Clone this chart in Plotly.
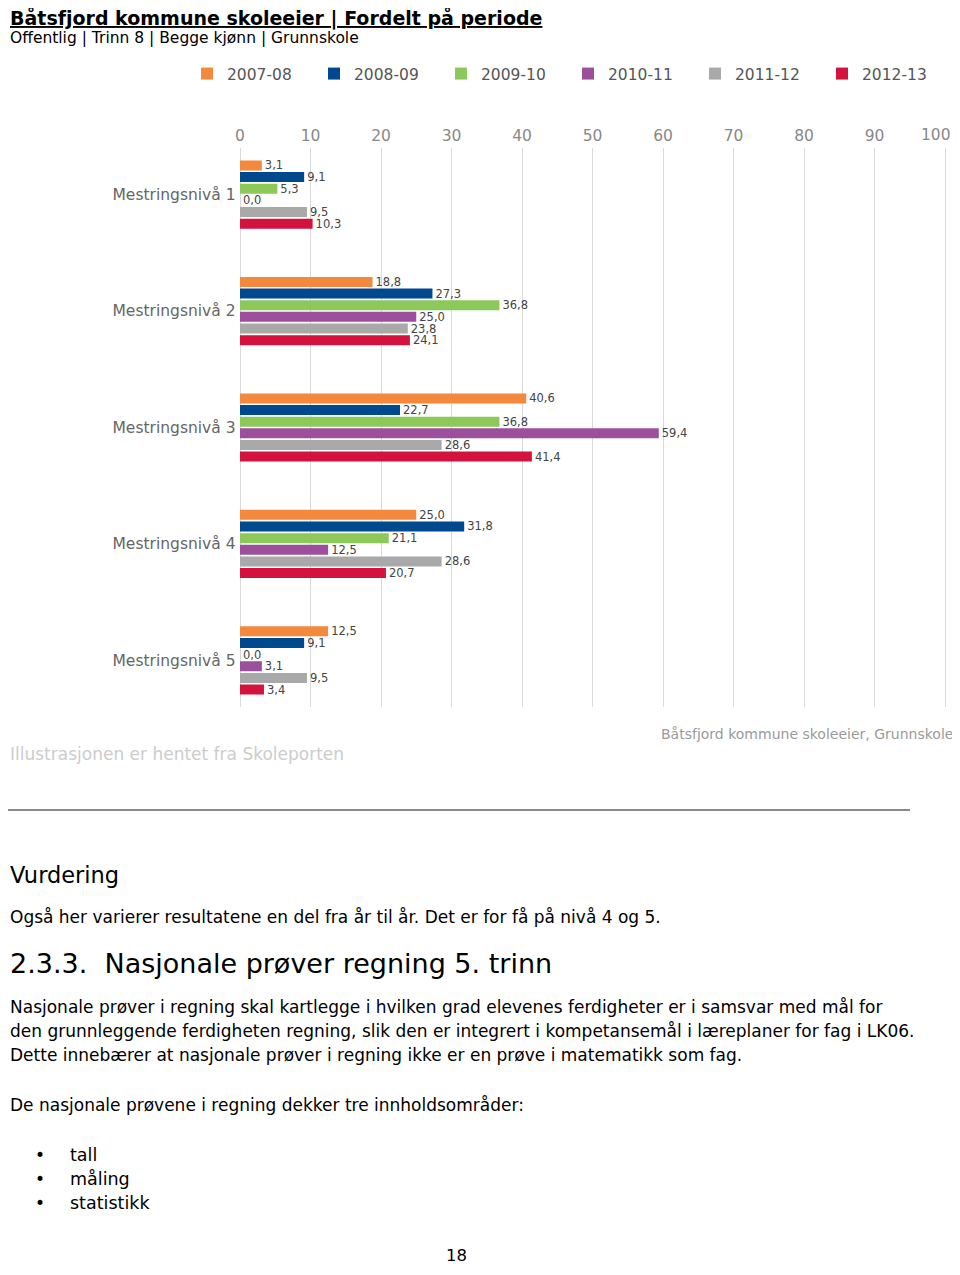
import plotly.graph_objects as go

categories = ["Mestringsnivå 1", "Mestringsnivå 2", "Mestringsnivå 3", "Mestringsnivå 4", "Mestringsnivå 5"]
periods = ["2007-08", "2008-09", "2009-10", "2010-11", "2011-12", "2012-13"]
v_2007_08 = [3.1, 18.8, 40.6, 25.0, 12.5]
v_2008_09 = [9.1, 27.3, 22.7, 31.8, 9.1]
v_2009_10 = [5.3, 36.8, 36.8, 21.1, 0.0]
v_2010_11 = [0.0, 25.0, 59.4, 12.5, 3.1]
v_2011_12 = [9.5, 23.8, 28.6, 28.6, 9.5]
v_2012_13 = [10.3, 24.1, 41.4, 20.7, 3.4]
series = [v_2007_08, v_2008_09, v_2009_10, v_2010_11, v_2011_12, v_2012_13]
colors = ["#F4883D", "#00498F", "#8DC85B", "#9B4F9D", "#A9A9A9", "#D3123E"]
x_ticks = [0, 10, 20, 30, 40, 50, 60, 70, 80, 90, 100]

# the page body has an 8px margin on every side; the figure is sized to fit inside it
OFF = 8
W, H = 960 - 2 * OFF, 1275 - 2 * OFF
def py(px):
    return 1 - (px - OFF) / H
def pxx(px):
    return (px - OFF) / W

# x axis: 0 at x=240px, 100 at x=945px; a small pad keeps the end grid lines visible
X0, X1, PAD = 240, 945, 0.2
scale = (X1 - X0) / 100.0

fig = go.Figure()
for name, vals, col in zip(periods, series, colors):
    fig.add_trace(go.Bar(
        y=categories, x=vals, name=name, orientation="h",
        marker=dict(color=col, line=dict(width=0)),
        texttemplate="%{x:.1f}", textposition="outside", constraintext="none",
        textfont=dict(family="DejaVu Sans", size=11.5, color="#444444"),
        cliponaxis=False,
    ))

DOC = "DejaVu Sans"
ann = []
def txt(s, x, y, size, color="#000000", xanchor="left", yanchor="middle", family=DOC):
    ann.append(dict(text=s, x=pxx(x), y=py(y), xref="paper", yref="paper",
                    xanchor=xanchor, yanchor=yanchor, showarrow=False,
                    font=dict(family=family, size=size, color=color)))

L = OFF
txt("<b><u>Båtsfjord kommune skoleeier | Fordelt på periode</u></b>", L, OFF - 4, 19, yanchor="top")
txt("Offentlig | Trinn 8 | Begge kjønn | Grunnskole", L, 38, 15.5)
txt("Illustrasjonen er hentet fra Skoleporten", L, 754, 17, "#CCCCCC")
txt("Båtsfjord kommune skoleeier, Grunnskole", 955, 734, 14, "#9A9A9A", "right")
txt("Vurdering", L, 875, 22.5)
txt("Også her varierer resultatene en del fra år til år. Det er for få på nivå 4 og 5.", L, 917, 17)
txt("2.3.3.  Nasjonale prøver regning 5. trinn", L, 963, 27)
txt("Nasjonale prøver i regning skal kartlegge i hvilken grad elevenes ferdigheter er i samsvar med mål for", L, 1007, 17)
txt("den grunnleggende ferdigheten regning, slik den er integrert i kompetansemål i læreplaner for fag i LK06.", L, 1031, 17)
txt("Dette innebærer at nasjonale prøver i regning ikke er en prøve i matematikk som fag.", L, 1055, 17)
txt("De nasjonale prøvene i regning dekker tre innholdsområder:", L, 1105, 17)
for label, yy in [("tall", 1155), ("måling", 1179), ("statistikk", 1203)]:
    txt("•", 40, yy, 17, xanchor="center")
    txt(label, 68, yy, 17.5)
txt("18", 456, 1255, 16.5, xanchor="center")

GRID_TOP = 148
# the last tick label would be cut by the window edge: draw it right-aligned to its tick
tick_text = [str(t) for t in x_ticks[:-1]] + [""]
ann.append(dict(text=str(x_ticks[-1]), x=x_ticks[-1], y=py(GRID_TOP), xref="x", yref="paper",
                xanchor="right", yanchor="bottom", xshift=8, yshift=2, showarrow=False,
                font=dict(family="DejaVu Sans", size=15.5, color="#888888")))

fig.update_layout(
    width=W, height=H,
    margin=dict(l=0, r=0, t=0, b=0, autoexpand=False),
    paper_bgcolor="white", plot_bgcolor="white",
    separators=", ",
    barmode="group", bargap=0.4, bargroupgap=0.14,
    showlegend=True,
    legend=dict(orientation="h", x=pxx(187), y=py(57), xanchor="left", yanchor="top",
                font=dict(family="DejaVu Sans", size=15.5, color="#555555"),
                entrywidth=82, entrywidthmode="pixels", itemwidth=30,
                traceorder="normal", bgcolor="rgba(0,0,0,0)"),
    xaxis=dict(domain=[pxx(X0 - PAD * scale), pxx(X1 + PAD * scale)],
               range=[-PAD, 100 + PAD], side="top",
               tickvals=x_ticks, ticktext=tick_text,
               showgrid=True, gridcolor="#D9D9D9", gridwidth=1,
               zeroline=False, showline=False, ticks="",
               tickfont=dict(family="DejaVu Sans", size=15.5, color="#888888"),
               ticklabelstandoff=3),
    yaxis=dict(domain=[py(707), py(GRID_TOP)], range=[4.4, -0.4], type="category",
               showgrid=False, zeroline=False, showline=False, ticks="",
               tickfont=dict(family="DejaVu Sans", size=15.5, color="#666666"),
               ticklabelstandoff=2),
    annotations=ann,
    shapes=[dict(type="line", xref="paper", yref="paper", x0=pxx(OFF), x1=pxx(910),
                 y0=py(810), y1=py(810), line=dict(color="#8A8A8A", width=2))],
)

fig.write_html("out.html")
